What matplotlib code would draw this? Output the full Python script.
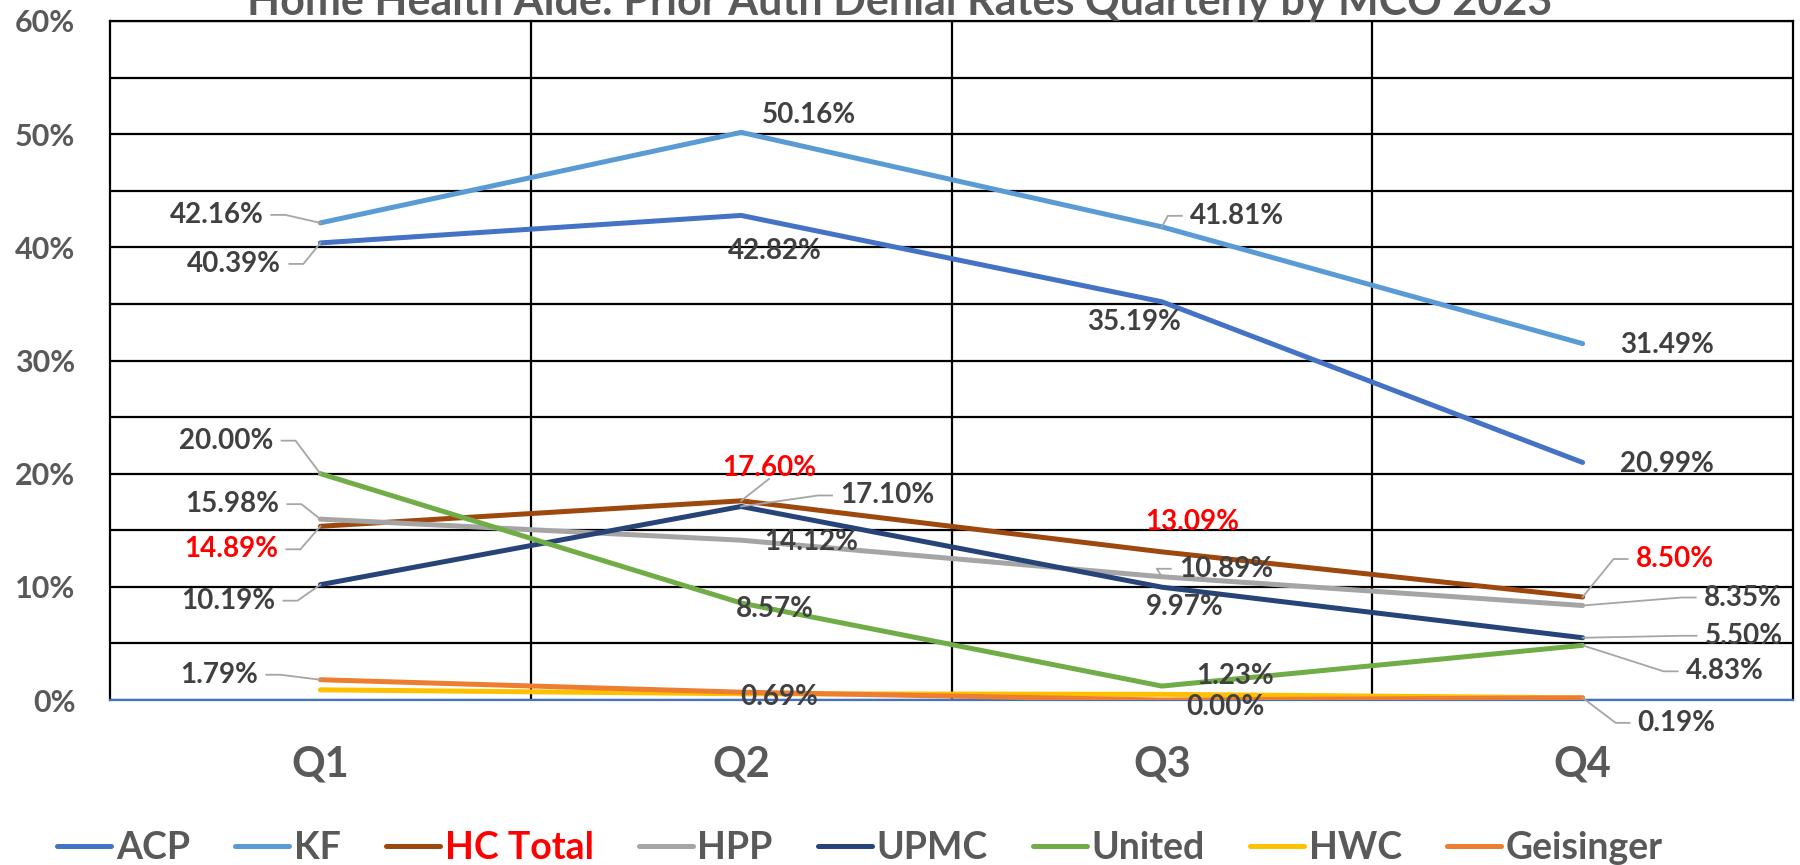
import numpy as np
import matplotlib
matplotlib.use('Agg')
import matplotlib.pyplot as plt
from matplotlib.lines import Line2D

# 数据 (单位: %)
quarters = ['Q1', 'Q2', 'Q3', 'Q4']
acp = [40.39, 42.82, 35.19, 20.99]
kf = [42.16, 50.16, 41.81, 31.49]
hc_total = [15.35, 17.60, 13.09, 9.10]
hc_total_labels = ['14.89%', '17.60%', '13.09%', '8.50%']
hpp = [15.98, 14.12, 10.89, 8.35]
upmc = [10.19, 17.10, 9.97, 5.50]
united = [20.00, 8.57, 1.23, 4.83]
hwc = [0.90, 0.55, 0.50, 0.19]
geisinger = [1.79, 0.69, 0.00, 0.19]

series = [
    ('ACP', acp, '#4472C4'),
    ('KF', kf, '#5B9BD5'),
    ('HC Total', hc_total, '#9E480E'),
    ('HPP', hpp, '#A5A5A5'),
    ('UPMC', upmc, '#264478'),
    ('United', united, '#70AD47'),
    ('HWC', hwc, '#FFC000'),
    ('Geisinger', geisinger, '#ED7D31'),
]

# 标签偏移 (像素, 向上为正) 和引线方向
label_layout = {
    ('ACP', 0): (-86, -21, 'L'), ('ACP', 1): (34, -36, None),
    ('ACP', 2): (-28, -20, None), ('ACP', 3): (84, -2, None),
    ('KF', 0): (-104, 8, 'L'), ('KF', 1): (68, 17, None),
    ('KF', 2): (75, 11, 'R'), ('KF', 3): (84, -1, None),
    ('HC Total', 0): (-89, -23, 'L'), ('HC Total', 1): (28, 33, 'D'),
    ('HC Total', 2): (30, 30, None), ('HC Total', 3): (92, 38, 'R'),
    ('HPP', 0): (-88, 15, 'L'), ('HPP', 1): (70, -2, None),
    ('HPP', 2): (64, 8, 'R'), ('HPP', 3): (160, 8, 'R'),
    ('UPMC', 0): (-92, -16, 'L'), ('UPMC', 1): (146, 11, 'R'),
    ('UPMC', 2): (23, -20, None), ('UPMC', 3): (161, 2, 'R'),
    ('United', 0): (-94, 33, 'L'), ('United', 1): (34, -6, None),
    ('United', 2): (73, 10, None), ('United', 3): (142, -26, 'R'),
    ('Geisinger', 0): (-101, 5, 'L'), ('Geisinger', 1): (38, -5, None),
    ('Geisinger', 2): (64, -7, None), ('Geisinger', 3): (94, -25, 'R'),
}

plt.rcParams['font.family'] = ['Lato', 'DejaVu Sans']
text_gray = '#595959'
label_gray = '#404040'

fig = plt.figure(figsize=(18, 8.65), dpi=100)
ax = fig.add_axes([110 / 1800, 1 - 700 / 865, (1793 - 110) / 1800, (700 - 21) / 865])

x = np.arange(1, 5)
handles = []
for name, vals, color in series:
    ln, = ax.plot(x, np.array(vals) / 100, color=color, lw=3.6,
                  solid_capstyle='round', solid_joinstyle='round', label=name, zorder=3)
    handles.append(ln)

ax.set_xlim(0.5, 4.5)
ax.set_ylim(0, 0.6)
ax.set_yticks(np.arange(0, 0.61, 0.1))
ax.set_yticklabels([f'{int(round(v * 100))}%' for v in np.arange(0, 0.61, 0.1)])
ax.set_yticks(np.arange(0, 0.61, 0.05), minor=True)
ax.set_xticks(x)
ax.set_xticklabels(quarters)
ax.set_xticks([1.5, 2.5, 3.5], minor=True)
ax.set_axisbelow(True)
ax.yaxis.grid(True, which='both', color='black', lw=1.6)
ax.xaxis.grid(True, which='minor', color='black', lw=1.6)
ax.tick_params(axis='both', which='both', length=0)
ax.tick_params(axis='y', pad=25, labelsize=22, labelcolor=text_gray)
ax.tick_params(axis='x', pad=33, labelsize=30, labelcolor=text_gray)
for lab in ax.get_xticklabels() + ax.get_yticklabels():
    lab.set_fontweight('bold')
for s in ['left', 'top', 'right']:
    ax.spines[s].set_color('black')
    ax.spines[s].set_linewidth(1.6)
ax.spines['bottom'].set_color('#4472C4')
ax.spines['bottom'].set_linewidth(1.6)

# 标题 (上半部分被裁掉)
fig.text(0.5, 1 - 15 / 865, 'Home Health Aide: Prior Auth Denial Rates Quarterly by MCO 2023',
         ha='center', va='baseline', fontsize=31, fontweight='bold', color=text_gray)

# 数据标签
texts = []
for name, vals, color in series:
    for i, v in enumerate(vals):
        key = (name, i)
        if key not in label_layout:
            continue
        dx, dy, leader = label_layout[key]
        if name == 'HC Total':
            s, c = hc_total_labels[i], 'red'
        else:
            s, c = f'{v:.2f}%', label_gray
        t = ax.annotate(s, xy=(x[i], v / 100), xytext=(dx, dy), textcoords='offset pixels',
                        ha='center', va='center', fontsize=20, fontweight='bold', color=c, zorder=5)
        texts.append((t, x[i], v / 100, leader))

fig.canvas.draw()
inv = fig.transFigure.inverted()
for t, xi, yi, leader in texts:
    if leader is None:
        continue
    px, py = ax.transData.transform((xi, yi))
    bb = t.get_window_extent()
    cy = (bb.y0 + bb.y1) / 2
    if leader == 'L':
        pts = [(bb.x1 + 8, cy), (bb.x1 + 22, cy), (px, py)]
    elif leader == 'R':
        pts = [(bb.x0 - 8, cy), (bb.x0 - 22, cy), (px, py)]
    else:
        pts = [((bb.x0 + bb.x1) / 2, bb.y0 + 2), (px, py)]
    pts = inv.transform(pts)
    fig.add_artist(Line2D(pts[:, 0], pts[:, 1], transform=fig.transFigure,
                          color='#A5A5A5', lw=1.3, zorder=4))

leg = fig.legend(handles=handles, loc='center', bbox_to_anchor=(860 / 1800, 1 - 848 / 865),
                 ncol=8, frameon=False, handlelength=1.45, handletextpad=0.12, columnspacing=1.2,
                 borderpad=0, prop={'size': 27, 'weight': 'bold'})
for txt in leg.get_texts():
    txt.set_color(text_gray)
leg.get_texts()[2].set_color('red')

fig.savefig('out.png', dpi=100)
